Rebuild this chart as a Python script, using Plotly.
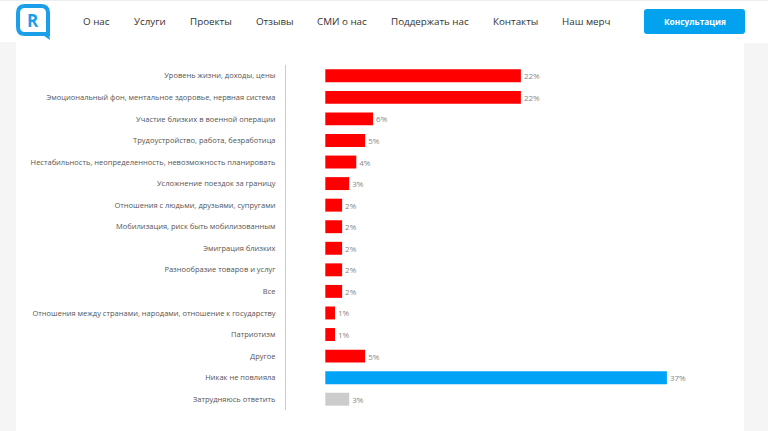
import plotly.graph_objects as go

categories = [
    "Уровень жизни, доходы, цены",
    "Эмоциональный фон, ментальное здоровье, нервная система",
    "Участие близких в военной операции",
    "Трудоустройство, работа, безработица",
    "Нестабильность, неопределенность, невозможность планировать",
    "Усложнение поездок за границу",
    "Отношения с людьми, друзьями, супругами",
    "Мобилизация, риск быть мобилизованным",
    "Эмиграция близких",
    "Разнообразие товаров и услуг",
    "Все",
    "Отношения между странами, народами, отношение к государству",
    "Патриотизм",
    "Другое",
    "Никак не повлияла",
    "Затрудняюсь ответить",
]
# bar lengths as drawn in the picture (percent)
bar_values = [22.1, 22.1, 5.4, 4.5, 3.5, 2.7, 1.9, 1.9, 1.9, 1.9, 1.9, 1.1, 1.1, 4.5, 38.6, 2.7]
# percentages printed next to the bars
value_labels = ["22%", "22%", "6%", "5%", "4%", "3%", "2%", "2%", "2%", "2%", "2%",
                "1%", "1%", "5%", "37%", "3%"]
bar_colors = ["#ff0000"] * 14 + ["#00a3f5", "#cccccc"]

nav_items = ["О нас", "Услуги", "Проекты", "Отзывы", "СМИ о нас",
             "Поддержать нас", "Контакты", "Наш мерч"]
nav_x = [81, 132, 188, 254, 315, 388.5, 491, 560]
button_text = "Консультация"

W, H = 768, 431
FONT = "Open Sans, Noto Sans, sans-serif"

fig = go.Figure()
fig.add_trace(go.Bar(
    y=categories, x=bar_values, orientation="h",
    marker=dict(color=bar_colors, line=dict(width=0)),
    text=value_labels, textposition="outside", cliponaxis=False,
    textfont=dict(family=FONT, size=8, color="#888888"),
    hoverinfo="skip",
))

px_per_unit = 8.85
zero_px = 325.3
left_px, right_px = 286, 740
x0 = -(zero_px - left_px) / px_per_unit
x1 = (right_px - zero_px) / px_per_unit
top_px, bot_px = 65, 410

def py(y):
    return 1 - y / H

shapes = [
    # grey page margins
    dict(type="rect", xref="paper", yref="paper", x0=0, x1=16 / W, y0=0, y1=py(42),
         fillcolor="#f5f5f5", line=dict(width=0), layer="below"),
    dict(type="rect", xref="paper", yref="paper", x0=744 / W, x1=1, y0=0, y1=py(43),
         fillcolor="#f5f5f5", line=dict(width=0), layer="below"),
    dict(type="line", xref="paper", yref="paper", x0=0, x1=1, y0=py(0.5), y1=py(0.5),
         line=dict(color="#eeeeee", width=1)),
    # button
    dict(type="path", xref="paper", yref="paper",
         path=("M {a},{t} L {b},{t} Q {b2},{t} {b2},{t2} L {b2},{u2} Q {b2},{u} {b},{u} "
               "L {a},{u} Q {a0},{u} {a0},{u2} L {a0},{t2} Q {a0},{t} {a},{t} Z").format(
             a0=644 / W, a=647 / W, b=742 / W, b2=745 / W,
             t=py(9), t2=py(12), u=py(34), u2=py(31)),
         fillcolor="#03a2ee", line=dict(width=0)),
    # logo rounded square
    dict(type="path", xref="paper", yref="paper",
         path=("M {a},{t} L {b},{t} Q {b2},{t} {b2},{t2} L {b2},{u} L {a},{u} "
               "Q {a0},{u} {a0},{u2} L {a0},{t2} Q {a0},{t} {a},{t} Z").format(
             a0=18 / W, a=25 / W, b=41 / W, b2=48 / W,
             t=py(6), t2=py(13), u=py(34), u2=py(27)),
         fillcolor="rgba(0,0,0,0)", line=dict(color="#1a9fe8", width=4)),
    dict(type="path", xref="paper", yref="paper",
         path="M {x1},{y1} L {x2},{y2} L {x3},{y3} Z".format(
             x1=40 / W, y1=py(33), x2=49 / W, y2=py(33), x3=50 / W, y3=py(40)),
         fillcolor="#1a9fe8", line=dict(width=0)),
]

annotations = []
for label, xpos in zip(nav_items, nav_x):
    annotations.append(dict(
        text=label, xref="paper", yref="paper", x=xpos / W, y=py(21),
        xanchor="left", yanchor="middle", showarrow=False,
        font=dict(family=FONT, size=9.8, color="#333333")))
annotations.append(dict(
    text="<b>" + button_text + "</b>", xref="paper", yref="paper", x=694.5 / W, y=py(21.5),
    xanchor="center", yanchor="middle", showarrow=False,
    font=dict(family=FONT, size=8.3, color="#ffffff")))
annotations.append(dict(
    text="<b>R</b>", xref="paper", yref="paper", x=33 / W, y=py(20.5),
    xanchor="center", yanchor="middle", showarrow=False,
    font=dict(family=FONT, size=17, color="#1a9fe8")))

fig.update_layout(
    width=W, height=H, autosize=False,
    margin=dict(l=0, r=0, t=0, b=0, pad=0),
    paper_bgcolor="#ffffff", plot_bgcolor="#ffffff",
    showlegend=False, bargap=0.4,
    font=dict(family=FONT),
    xaxis=dict(domain=[left_px / W, right_px / W], range=[x0, x1],
               showgrid=False, zeroline=False, showticklabels=False, showline=False,
               fixedrange=True),
    yaxis=dict(domain=[py(bot_px), py(top_px)], autorange="reversed",
               showgrid=False, zeroline=False, showline=True, linecolor="#cccccc",
               linewidth=1, ticks="", ticklabelstandoff=8,
               tickfont=dict(family=FONT, size=7.5, color="#555555"),
               fixedrange=True),
    shapes=shapes, annotations=annotations,
)

fig.write_html("out.html", config={"displayModeBar": False},
               post_script="document.body.style.margin='0';document.body.style.overflow='hidden';")
